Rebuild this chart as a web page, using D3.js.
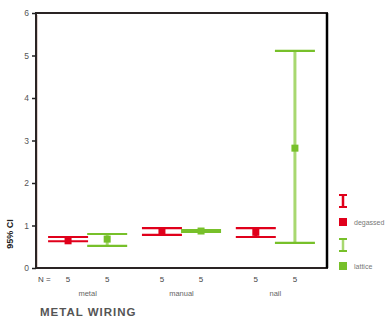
<!DOCTYPE html>
<html>
<head>
<meta charset="utf-8">
<script src="https://cdn.jsdelivr.net/npm/d3@7"></script>
<style>
  body { margin: 0; background: #fff; }
  svg { display: block; font-family: "Liberation Sans", Arial, sans-serif; }
</style>
</head>
<body>
<svg id="chart" width="391" height="322"></svg>
<script>
// Metal wiring groups and the two series plotted inside each
const groups = ["metal", "manual", "nail"];
const seriesNames = ["degassed", "lattice"];
const seriesColors = ["#e0001b", "#77c02a"];
const seriesLineColors = ["#e0001b", "#a8d870"];
const countLabels = ["5", "5", "5", "5", "5", "5"];
const yTicks = [0, 1, 2, 3, 4, 5, 6];

// Means and 95% CI bounds, one entry per group
const meanA = [0.64, 0.87, 0.84];
const lowerA = [0.63, 0.78, 0.73];
const upperA = [0.73, 0.94, 0.94];
const meanB = [0.68, 0.87, 2.82];
const lowerB = [0.52, 0.85, 0.59];
const upperB = [0.80, 0.89, 5.11];

const svg = d3.select("#chart");
const margin = { left: 36, right: 64, top: 13, bottom: 54 };
const W = 391, H = 322;
const x0 = margin.left, x1 = W - margin.right, yTop = margin.top, yBot = H - margin.bottom;

const xBand = d3.scaleBand().domain(groups).range([x0, x1]).paddingInner(0).paddingOuter(0.05);
const xSub = d3.scaleBand().domain(seriesNames).range([0, xBand.bandwidth()]).paddingInner(0).paddingOuter(0.2);
const y = d3.scaleLinear().domain([0, 6]).range([yBot, yTop]);

// Plot frame
svg.append("rect").attr("x", x0).attr("y", yTop).attr("width", x1 - x0).attr("height", yBot - yTop)
  .attr("fill", "none").attr("stroke", "#2a2424").attr("stroke-width", 2);
svg.append("line").attr("x1", x0 + 1.5).attr("x2", x0 + 1.5).attr("y1", yTop + 2).attr("y2", yBot - 1)
  .attr("stroke", "#ddd0cc").attr("stroke-width", 1);
svg.append("line").attr("x1", x1).attr("x2", x1).attr("y1", yTop).attr("y2", yBot)
  .attr("stroke", "#000").attr("stroke-width", 2.5);

// Y axis
const yAxis = d3.axisLeft(y).tickValues(yTicks).tickSize(4).tickPadding(3).tickFormat(d3.format("d"));
const gy = svg.append("g").attr("transform", `translate(${x0},0)`).call(yAxis);
gy.select(".domain").remove();
gy.selectAll(".tick line").attr("stroke", "#222").attr("stroke-width", 1.5);
gy.selectAll(".tick text").attr("font-size", 8.5).attr("fill", "#555");

svg.append("text")
  .attr("transform", `translate(13,${y(0.8)}) rotate(-90)`)
  .attr("text-anchor", "middle").attr("font-size", 9).attr("font-weight", "bold").attr("fill", "#222")
  .text("95% CI");

// Error bars
const series = [
  { mean: meanA, lower: lowerA, upper: upperA },
  { mean: meanB, lower: lowerB, upper: upperB }
];
const capW = 40;
series.forEach((s, si) => {
  const g = svg.append("g");
  groups.forEach((grp, gi) => {
    const cx = xBand(grp) + xSub(seriesNames[si]) + xSub.bandwidth() / 2;
    g.append("line").attr("x1", cx).attr("x2", cx)
      .attr("y1", y(s.lower[gi])).attr("y2", y(s.upper[gi]))
      .attr("stroke", seriesLineColors[si]).attr("stroke-width", 3);
    [s.lower[gi], s.upper[gi]].forEach(v => {
      g.append("line").attr("x1", cx - capW / 2).attr("x2", cx + capW / 2)
        .attr("y1", y(v)).attr("y2", y(v))
        .attr("stroke", seriesColors[si]).attr("stroke-width", 2.2);
    });
    g.append("rect").attr("x", cx - 3.5).attr("y", y(s.mean[gi]) - 3.5).attr("width", 7).attr("height", 7)
      .attr("fill", seriesColors[si]);
  });
});

// Counts under each bar
svg.append("text").attr("x", x0 + 2).attr("y", yBot + 14).attr("font-size", 8).attr("fill", "#444").text("N =");
let k = 0;
groups.forEach(grp => {
  seriesNames.forEach(sn => {
    const cx = xBand(grp) + xSub(sn) + xSub.bandwidth() / 2;
    svg.append("text").attr("x", cx).attr("y", yBot + 14).attr("text-anchor", "middle")
      .attr("font-size", 8).attr("fill", "#444").text(countLabels[k++]);
  });
  svg.append("text").attr("x", xBand(grp) + xBand.bandwidth() / 2).attr("y", yBot + 28)
    .attr("text-anchor", "middle").attr("font-size", 7.5).attr("fill", "#666").text(grp);
});

svg.append("text").attr("x", 40).attr("y", 316).attr("font-size", 11.5).attr("font-weight", "bold")
  .attr("fill", "#555").attr("letter-spacing", 1).text("METAL WIRING");

// Legend
const lx = 343;
const legY = [[201, 222], [245, 266]];
seriesNames.forEach((sn, i) => {
  const [ey, sy] = legY[i];
  const lg = svg.append("g");
  lg.append("line").attr("x1", lx).attr("x2", lx).attr("y1", ey - 6).attr("y2", ey + 6)
    .attr("stroke", seriesLineColors[i]).attr("stroke-width", 2.5);
  [ey - 6, ey + 6].forEach(v => lg.append("line").attr("x1", lx - 4).attr("x2", lx + 4)
    .attr("y1", v).attr("y2", v).attr("stroke", seriesColors[i]).attr("stroke-width", 2));
  lg.append("rect").attr("x", lx - 4).attr("y", sy - 4).attr("width", 8).attr("height", 8).attr("fill", seriesColors[i]);
  lg.append("text").attr("x", lx + 11).attr("y", sy + 3).attr("font-size", 7).attr("fill", "#777").text(sn);
});
</script>
</body>
</html>
